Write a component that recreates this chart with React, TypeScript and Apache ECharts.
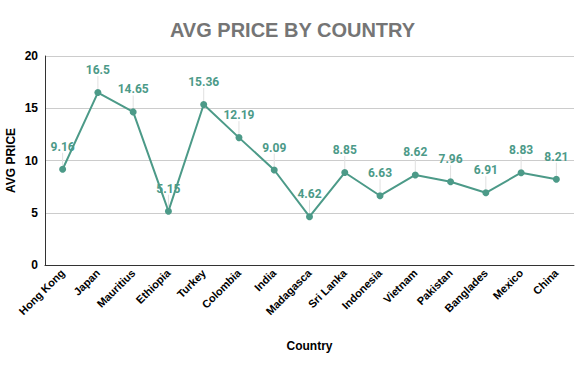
import React, { useEffect, useRef } from "react";
import * as echarts from "echarts";

const countries = ["Hong Kong", "Japan", "Mauritius", "Ethiopia", "Turkey", "Colombia", "India", "Madagasca", "Sri Lanka", "Indonesia", "Vietnam", "Pakistan", "Banglades", "Mexico", "China"];
const avgPrice = [9.16, 16.5, 14.65, 5.15, 15.36, 12.19, 9.09, 4.62, 8.85, 6.63, 8.62, 7.96, 6.91, 8.83, 8.21];

export default function App() {
  const ref = useRef<HTMLDivElement>(null);
  useEffect(() => {
    const chart = echarts.init(ref.current!, null, { renderer: "svg" });
    chart.setOption({
      animation: false,
      title: {
        text: "AVG PRICE BY COUNTRY",
        left: "center",
        top: 15,
        textStyle: { color: "#757575", fontSize: 20, fontWeight: "bold", fontFamily: "Liberation Sans" },
      },
      grid: { left: 45, right: 11, top: 56, bottom: 106, containLabel: false, outerBoundsMode: "none" },
      xAxis: {
        type: "category",
        data: countries,
        name: "Country",
        nameLocation: "middle",
        nameGap: 75,
        nameMoveOverlap: false,
        nameTextStyle: { color: "#000", fontSize: 12, fontWeight: "bold", fontFamily: "Liberation Sans" },
        axisLine: { lineStyle: { color: "#333", width: 1 } },
        axisTick: { show: false },
        axisLabel: { rotate: 45, color: "#000", fontSize: 11, fontWeight: "bold", fontFamily: "Liberation Sans", margin: 6, interval: 0 },
      },
      yAxis: {
        type: "value",
        min: 0,
        max: 20,
        interval: 5,
        name: "AVG PRICE",
        nameLocation: "middle",
        nameGap: 28,
        nameMoveOverlap: false,
        nameTextStyle: { color: "#000", fontSize: 12, fontWeight: "bold", fontFamily: "Liberation Sans" },
        axisLine: { show: true, lineStyle: { color: "#333", width: 1 } },
        axisTick: { show: false },
        axisLabel: { color: "#000", fontSize: 12, fontWeight: "bold", fontFamily: "Liberation Sans", margin: 7 },
        splitLine: { lineStyle: { color: "#ccc" } },
      },
      series: [
        {
          type: "line",
          data: avgPrice,
          symbol: "circle",
          symbolSize: 7,
          itemStyle: { color: "#4c9a88" },
          lineStyle: { color: "#4c9a88", width: 2 },
          label: {
            show: true,
            position: "top",
            distance: 5,
            color: "#4c9a88",
            fontSize: 12,
            fontWeight: "bold",
            fontFamily: "Roboto",
          },
          labelLayout: { dy: -8 },
          labelLine: { show: true, lineStyle: { color: "#e0e0e0", width: 1 } },
        },
      ],
    });
    return () => chart.dispose();
  }, []);
  return <div ref={ref} style={{ width: 585, height: 371, position: "absolute", left: 0, top: 0 }} />;
}
